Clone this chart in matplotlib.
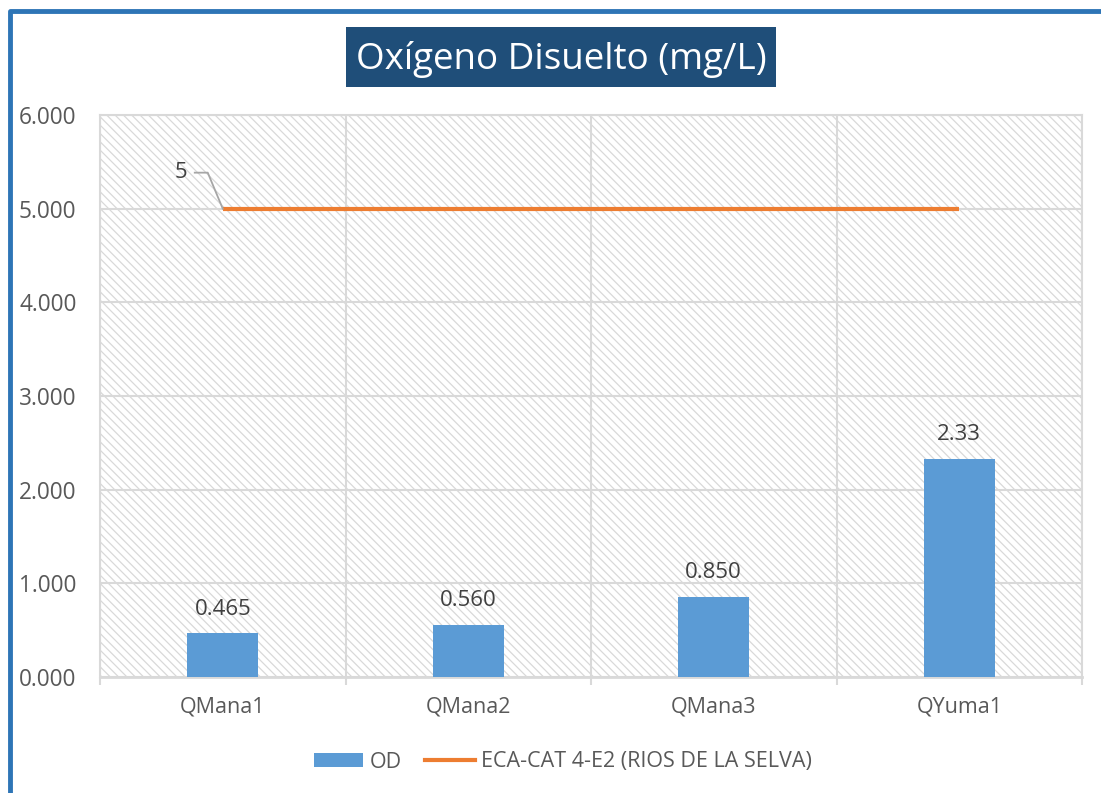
import matplotlib
matplotlib.use('Agg')
import matplotlib.pyplot as plt
from matplotlib.patches import Rectangle, Patch
from matplotlib.lines import Line2D

# --- DATA ---
categories = ['QMana1', 'QMana2', 'QMana3', 'QYuma1']
od_values = [0.465, 0.560, 0.850, 2.33]
od_labels = ['0.465', '0.560', '0.850', '2.33']
eca_values = [5, 5, 5, 5]
y_ticks = [0, 1, 2, 3, 4, 5, 6]
y_tick_labels = ['0.000', '1.000', '2.000', '3.000', '4.000', '5.000', '6.000']
title = 'Oxígeno Disuelto (mg/L)'
legend_labels = ['OD', 'ECA-CAT 4-E2 (RIOS DE LA SELVA)']

BAR_COLOR = '#5B9BD5'
LINE_COLOR = '#ED7D31'
GRID = '#D9D9D9'
TXT = '#595959'

plt.rcParams['font.family'] = ['Open Sans', 'DejaVu Sans']
plt.rcParams['hatch.color'] = '#DEDEDE'
plt.rcParams['hatch.linewidth'] = 0.9

W, H = 1101, 793
fig = plt.figure(figsize=(W / 100, H / 100), dpi=100)

def fx(px): return px / W
def fy(py): return 1 - py / H

# plot area
ax = fig.add_axes([fx(100), fy(677), fx(1082) - fx(100), fy(115) - fy(677)])
ax.set_xlim(-0.5, len(categories) - 0.5)
ax.set_ylim(0, 6)

ax.add_patch(Rectangle((0, 0), 1, 1, transform=ax.transAxes, facecolor='white',
                       edgecolor=GRID, hatch='\\\\\\\\', linewidth=0, zorder=0))

x = list(range(len(categories)))
ax.bar(x, od_values, width=0.29, color=BAR_COLOR, zorder=3)
ax.plot(x, eca_values, color=LINE_COLOR, linewidth=3, zorder=4, solid_capstyle='butt')

for xi, v, lab in zip(x, od_values, od_labels):
    ax.annotate(lab, (xi, v), xytext=(0, 10), textcoords='offset points',
                ha='center', va='bottom', fontsize=16, color='#404040', zorder=5)

# ticks / grid
ax.set_yticks(y_ticks)
ax.set_yticklabels(y_tick_labels)
ax.set_xticks(x)
ax.set_xticklabels(categories)
ax.set_xticks([i - 0.5 for i in range(len(categories) + 1)], minor=True)
ax.tick_params(axis='y', length=0, pad=17, labelsize=16.3, labelcolor=TXT)
ax.tick_params(axis='x', which='major', length=0, pad=14, labelsize=15.5, labelcolor=TXT)
ax.tick_params(axis='x', which='minor', length=6, width=1.5, color=GRID)
ax.grid(axis='y', color=GRID, linewidth=1.5, zorder=1)
ax.grid(axis='x', which='minor', color=GRID, linewidth=1.5, zorder=1)
ax.set_axisbelow(True)
for s in ax.spines.values():
    s.set_color(GRID)
    s.set_linewidth(1.5)
ax.spines['bottom'].set_linewidth(2)

# label "5" with leader line on the first point of the ECA series
ax0 = ax.transData.transform((x[0], eca_values[0]))
inv = fig.transFigure.inverted()
pts = [(ax0[0] - 28, ax0[1] + 36), (ax0[0] - 15, ax0[1] + 36), ax0]
fpts = [inv.transform(p) for p in pts]
fig.add_artist(Line2D([p[0] for p in fpts], [p[1] for p in fpts], color='#A6A6A6', linewidth=1.3))
lp = inv.transform((ax0[0] - 42, ax0[1] + 36))
fig.text(lp[0], lp[1], str(eca_values[0]), ha='center', va='center', fontsize=16, color='#404040')

# title box
fig.add_artist(Rectangle((fx(346), fy(87)), fx(776) - fx(346), fy(27) - fy(87),
                         transform=fig.transFigure, facecolor='#1F4E79', edgecolor='none'))
fig.text(fx(561), fy(60), title, ha='center', va='center', fontsize=26.5, color='white')

# outer frame
fig.add_artist(Line2D([fx(10), fx(10), fx(1101)], [fy(H), fy(11), fy(11)],
                      color='#2E75B6', linewidth=3.5))

# legend
handles = [Patch(facecolor=BAR_COLOR, edgecolor='none'),
           Line2D([0], [0], color=LINE_COLOR, linewidth=3)]
fig.legend(handles, legend_labels, loc='center', bbox_to_anchor=(fx(563), fy(762)),
           ncol=2, frameon=False, fontsize=15.5, labelcolor=TXT, handlelength=2.3,
           handleheight=0.65, columnspacing=1.1, handletextpad=0.3)

fig.savefig('out.png', dpi=100)
